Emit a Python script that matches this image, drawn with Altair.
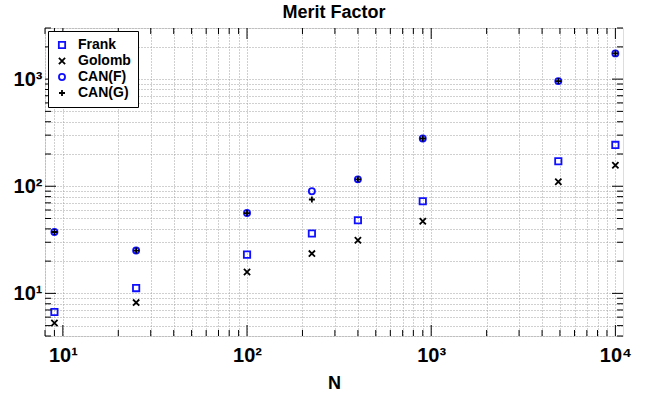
import altair as alt
import pandas as pd

# ---- data ----
N = [9, 25, 100, 225, 400, 900, 4900, 10000]
frank = [6.7, 11.2, 23.0, 36.2, 48.1, 72.4, 171, 243]
golomb = [5.3, 8.2, 15.8, 23.5, 31.3, 47.1, 110, 157]
can_f = [37.4, 25.1, 56.2, 89.8, 116, 279, 958, 1738]
can_g = [37.4, 25.1, 56.2, 75.2, 116, 279, 958, 1738]
series = ["Frank", "Golomb", "CAN(F)", "CAN(G)"]

x_major = [10, 100, 1000, 10000]
x_minor = [8, 9, 20, 30, 40, 50, 60, 70, 80, 90,
           200, 300, 400, 500, 600, 700, 800, 900,
           2000, 3000, 4000, 5000, 6000, 7000, 8000, 9000]
y_major = [10, 100, 1000]
y_minor = [4, 5, 6, 7, 8, 9, 20, 30, 40, 50, 60, 70, 80, 90,
           200, 300, 400, 500, 600, 700, 800, 900, 2000, 3000]

XDOM = [8, 11000]
YDOM = [4, 3000]
W, H = 578, 308
FONT = "Liberation Sans"

rows = []
for name, vals in zip(series, [frank, golomb, can_f, can_g]):
    for n, v in zip(N, vals):
        rows.append({"N": n, "value": v, "series": name})
df = pd.DataFrame(rows)

xs = alt.Scale(type="log", domain=XDOM, nice=False)
ys = alt.Scale(type="log", domain=YDOM, nice=False)

sup = ("datum.value==10?'10\u00b9':datum.value==100?'10\u00b2':"
       "datum.value==1000?'10\u00b3':datum.value==10000?'10\u2074':''")

xaxis = alt.Axis(values=x_major + x_minor, grid=True, gridDash=[1, 2],
                 gridColor="#a0a0a0", gridWidth=1, ticks=False, domain=False,
                 labelExpr=sup, labelFont=FONT, labelFontWeight="bold",
                 labelFontSize=20, labelColor="black", labelPadding=9,
                 labelOverlap=False, labelFlush=False,
                 title="N", titleFont=FONT, titleFontSize=18,
                 titleFontWeight="bold", titleColor="black", titlePadding=9)
yaxis = alt.Axis(values=y_major + y_minor, grid=True, gridDash=[1, 2],
                 gridColor="#a0a0a0", gridWidth=1, ticks=False, domain=False,
                 labelExpr=sup, labelFont=FONT, labelFontWeight="bold",
                 labelFontSize=20, labelColor="black", labelPadding=3,
                 labelOverlap=False, labelFlush=False, title="")

XPATH = "M-1,-1L1,1M-1,1L1,-1"
PLUS = "M-1,0L1,0M0,-1L0,1"

legend = alt.Legend(title=None, orient="top-left", offset=3,
                    fillColor="white", strokeColor="black",
                    padding=7, labelFont=FONT, labelFontSize=14,
                    labelFontWeight="bold", labelColor="black", rowPadding=2,
                    symbolStrokeWidth=1.8, labelOffset=9)

pts = alt.Chart(df).mark_point(filled=False, strokeWidth=1.8, opacity=1).encode(
    x=alt.X("N:Q", scale=xs, axis=xaxis),
    y=alt.Y("value:Q", scale=ys, axis=yaxis),
    color=alt.Color("series:N", scale=alt.Scale(domain=series,
                    range=["#1010ff", "#000000", "#1010ff", "#000000"]), legend=legend),
    shape=alt.Shape("series:N", scale=alt.Scale(domain=series,
                    range=["square", XPATH, "circle", PLUS]), legend=legend),
    size=alt.Size("series:N", scale=alt.Scale(domain=series,
                  range=[40, 36, 44, 70]), legend=legend),
)

xt_major = pd.DataFrame({"N": x_major})
xt_minor = pd.DataFrame({"N": x_minor})
yt_major = pd.DataFrame({"value": y_major})
yt_minor = pd.DataFrame({"value": y_minor})


def xticks(d, L):
    bot = alt.Chart(d).mark_rule(color="black", strokeWidth=1).encode(
        x=alt.X("N:Q", scale=xs, axis=xaxis),
        y=alt.value(H), y2=alt.value(H - L))
    top = alt.Chart(d).mark_rule(color="black", strokeWidth=1).encode(
        x=alt.X("N:Q", scale=xs, axis=xaxis),
        y=alt.value(0), y2=alt.value(L))
    return [bot, top]


def yticks(d, L):
    left = alt.Chart(d).mark_rule(color="black", strokeWidth=1).encode(
        y=alt.Y("value:Q", scale=ys, axis=yaxis),
        x=alt.value(0), x2=alt.value(L))
    right = alt.Chart(d).mark_rule(color="black", strokeWidth=1).encode(
        y=alt.Y("value:Q", scale=ys, axis=yaxis),
        x=alt.value(W), x2=alt.value(W - L))
    return [left, right]


layers = ([pts] + xticks(xt_major, 11) + xticks(xt_minor, 6)
          + yticks(yt_major, 11) + yticks(yt_minor, 6))

chart = alt.layer(*layers).properties(
    width=W, height=H,
    padding={"left": 45, "top": 28, "right": 35, "bottom": 58},
    autosize="none",
    title=alt.TitleParams("Merit Factor", font=FONT, fontSize=18,
                          fontWeight="bold", color="black", offset=4,
                          dy=8, anchor="middle"),
).configure_view(stroke="black", strokeWidth=1.5).configure(background="white")

chart.save("out.html", embed_options={"renderer": "svg", "actions": False})
